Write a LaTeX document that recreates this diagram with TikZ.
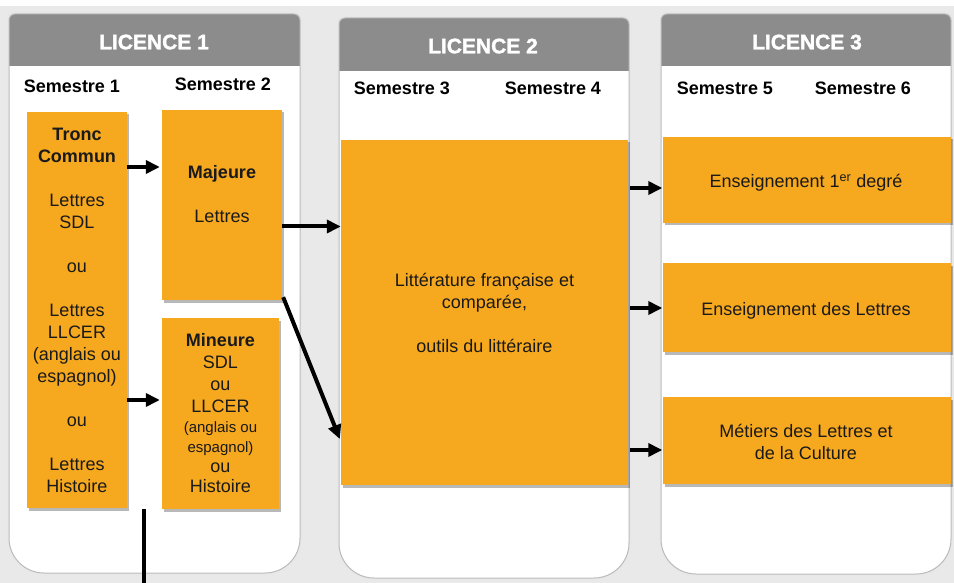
\documentclass[tikz,border=0pt]{standalone}
\usepackage{fontspec}
\setmainfont{Liberation Sans}
\newfontfamily\heavyfont[FakeBold=1.6]{Liberation Sans}
\usetikzlibrary{arrows.meta,shadows}
\definecolor{bg}{HTML}{E9E9E9}
\definecolor{hdr}{HTML}{8C8C8C}
\definecolor{org}{HTML}{F6A81E}
\definecolor{pline}{HTML}{BBBBBB}
\definecolor{txt}{HTML}{1A1A1A}
\tikzset{
  boxnode/.style={fill=org, draw=none, inner sep=0pt, align=center, text=txt,
    font=\fontsize{18}{22}\selectfont,
    drop shadow={shadow xshift=2pt, shadow yshift=-2.5pt, opacity=0.28, fill=black}},
  hdrtext/.style={anchor=base, text=white, font=\fontsize{21}{26}\selectfont\heavyfont\bfseries},
  semtext/.style={anchor=base, text=black, font=\fontsize{18}{22}\selectfont\bfseries},
  bodytext/.style={align=center, text=txt, font=\fontsize{18}{22}\selectfont},
  arr/.style={line width=4pt, -{Triangle[length=14pt,width=13pt]}},
  plainline/.style={line width=4pt},
}
\newcommand\mypanel[5]{%
  \draw[line width=4pt, black!9, rounded corners=6pt] (#1,250) -- (#1,#2) -- (#3,#2) -- (#3,250);
  \draw[line width=4pt, black!9, rounded corners=35pt] (#1,250) -- (#1,#4) -- (#3,#4) -- (#3,250);
  \fill[white, rounded corners=6pt] (#1,300) -- (#1,#2) -- (#3,#2) -- (#3,300) -- cycle;
  \fill[white, rounded corners=35pt] (#1,200) -- (#1,#4) -- (#3,#4) -- (#3,200) -- cycle;
  \begin{scope}
    \clip[rounded corners=6pt] (#1,#2) rectangle (#3,{#2+100});
    \fill[hdr] (#1,#2) rectangle (#3,#5);
    \fill[black!45] (#1,#5) rectangle (#3,{#5+1.2});
  \end{scope}
  \draw[line width=1pt, pline, rounded corners=6pt] (#1,250) -- (#1,#2) -- (#3,#2) -- (#3,250);
  \draw[line width=1pt, pline, rounded corners=35pt] (#1,250) -- (#1,#4) -- (#3,#4) -- (#3,250);
}
\begin{document}
\begin{tikzpicture}[x=1pt, y=-1pt]
\useasboundingbox (0,0) rectangle (954,583);
\fill[bg] (0,0) rectangle (954,583);
\fill[white] (0,0) rectangle (954,6);

% panels
\mypanel{9}{14}{300}{573}{65}
\mypanel{339}{18}{629}{578}{70}
\mypanel{661}{14}{951}{574}{65}

% headers
\node[hdrtext] (h1) at (154,49.3) {LICENCE 1};
\node[hdrtext] (h2) at (483,53.3) {LICENCE 2};
\node[hdrtext] (h3) at (807,49.3) {LICENCE 3};

\node[semtext] (s1) at (72,92.7) {Semestre 1};
\node[semtext] (s2) at (223,90.7) {Semestre 2};
\node[semtext] (s3) at (402,95) {Semestre 3};
\node[semtext] (s4) at (553,95) {Semestre 4};
\node[semtext] (s5) at (725,95) {Semestre 5};
\node[semtext] (s6) at (863,95) {Semestre 6};

% boxes
\node[boxnode, minimum width=100pt, minimum height=396pt] (tronc) at (77,310)
  {\textbf{Tronc}\\\textbf{Commun}\\[22pt]Lettres\\SDL\\[22pt]ou\\[22pt]Lettres\\LLCER\\(anglais ou\\espagnol)\\[22pt]ou\\[22pt]Lettres\\Histoire};
\node[boxnode, minimum width=120pt, minimum height=190pt] (maj) at (222,205) {};
\node[bodytext] (majt) at (222,194) {\textbf{Majeure}\\[22pt]Lettres};
\node[boxnode, minimum width=117pt, minimum height=191pt] (min) at (220.5,413.5)
  {\textbf{Mineure}\\SDL\\ou\\LLCER\\[-2pt]{\fontsize{15}{18}\selectfont(anglais ou}\\[-2pt]{\fontsize{15}{18}\selectfont espagnol)}\\[-2pt]ou\\[-2pt]Histoire};
\node[boxnode, minimum width=287pt, minimum height=345pt] (l2) at (484.5,312.5) {};
\node[bodytext] (l2t) at (484.5,313) {Littérature française et\\comparée,\\[22pt]outils du littéraire};

\node[boxnode, minimum width=288pt, minimum height=86pt] (e1) at (806.5,180) {};
\node[boxnode, minimum width=288pt, minimum height=89pt] (e2) at (806.5,307.5) {};
\node[boxnode, minimum width=288pt, minimum height=87pt] (e3) at (806.5,440.5) {};
\node[bodytext, anchor=base] (e1t) at (806,188) {Enseignement 1\textsuperscript{er} degré};
\node[bodytext, anchor=base] (e2t) at (806,315) {Enseignement des Lettres};
\node[bodytext] (e3t) at (806,442) {Métiers des Lettres et\\de la Culture};

% connectors
\draw[arr] (tronc.east |- 0,167) -- ([xshift=-2pt]maj.west |- 0,167);
\draw[arr] (tronc.east |- 0,400) -- ([xshift=-2pt]min.west |- 0,400);
\draw[arr] (maj.east |- 0,226.5) -- (l2.west |- 0,226.5);
\draw[arr] ([xshift=1pt,yshift=3pt]maj.south east) -- ([xshift=-1pt]l2.west |- 0,439);
\draw[arr] ([xshift=2pt]l2.east |- 0,188) -- (e1.west |- 0,188);
\draw[arr] ([xshift=2pt]l2.east |- 0,308) -- (e2.west |- 0,308);
\draw[arr] ([xshift=2pt]l2.east |- 0,450) -- (e3.west |- 0,450);
\coordinate (vtop) at (144,509);
\coordinate (vbot) at (144,583);
\draw[plainline] (vtop) -- (vbot);
\end{tikzpicture}
\end{document}
